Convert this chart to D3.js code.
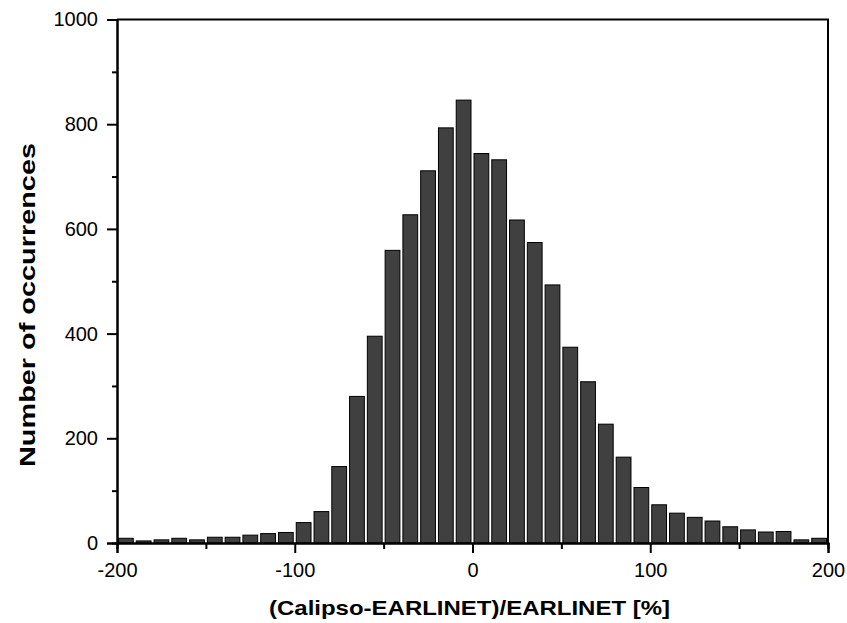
<!DOCTYPE html>
<html>
<head>
<meta charset="utf-8">
<script src="https://cdn.jsdelivr.net/npm/d3@7"></script>
<style>
  body { margin: 0; background: #fff; }
  text { font-family: "Liberation Sans", Arial, sans-serif; }
</style>
</head>
<body>
<div id="chart"></div>
<script>
// bin left edges (width 10) and counts
var binStart = d3.range(-200, 200, 10);
var counts = [9, 4, 6, 9, 6, 11, 11, 15, 18, 20,
              39, 60, 146, 280, 395, 559, 627, 711, 793, 846,
              744, 732, 617, 574, 493, 374, 308, 227, 164, 106,
              73, 57, 49, 42, 31, 25, 21, 22, 6, 9];
var xTicks = [-200, -100, 0, 100, 200];
var yTicks = [0, 200, 400, 600, 800, 1000];

var width = 847, height = 623;
var margin = {left: 117, right: 19, top: 19.5, bottom: 80};

var svg = d3.select("#chart").append("svg")
    .attr("width", width)
    .attr("height", height);

var x = d3.scaleLinear().domain([-200, 200]).range([margin.left, width - margin.right]);
var y = d3.scaleLinear().domain([0, 1000]).range([height - margin.bottom, margin.top]);

var bins = binStart.map(function(d, i){ return {x0: d, x1: d + 10, n: counts[i]}; });

svg.append("g")
  .selectAll("rect")
  .data(bins)
  .enter().append("rect")
    .attr("x", function(d){ return x(d.x0) + 1.5; })
    .attr("width", function(d){ return x(d.x1) - x(d.x0) - 3; })
    .attr("y", function(d){ return y(d.n); })
    .attr("height", function(d){ return y(0) - y(d.n); })
    .attr("fill", "#404040")
    .attr("stroke", "#000")
    .attr("stroke-width", 1);

// frame (top + right)
svg.append("path")
  .attr("d", "M" + x(-200) + "," + y(1000) + "H" + x(200) + "V" + y(0))
  .attr("fill", "none")
  .attr("stroke", "#000")
  .attr("stroke-width", 2);

// minor ticks
var xMinor = d3.axisBottom(x).tickValues(d3.range(-150, 200, 100)).tickSize(6).tickFormat("");
var yMinor = d3.axisLeft(y).tickValues(d3.range(100, 1000, 200)).tickSize(5).tickFormat("");

var fmt = function(d){ return String(d); };
var xAxis = d3.axisBottom(x).tickValues(xTicks).tickSize(10).tickPadding(10).tickFormat(fmt);
var yAxis = d3.axisLeft(y).tickValues(yTicks).tickSize(10).tickPadding(9).tickFormat(fmt);

[svg.append("g").attr("transform", "translate(0," + y(0) + ")").call(xMinor),
 svg.append("g").attr("transform", "translate(0," + y(0) + ")").call(xAxis),
 svg.append("g").attr("transform", "translate(" + x(-200) + ",0)").call(yMinor),
 svg.append("g").attr("transform", "translate(" + x(-200) + ",0)").call(yAxis)
].forEach(function(g){
  g.selectAll(".domain").attr("stroke-width", 2);
  g.selectAll(".tick line").attr("stroke-width", 2);
  g.selectAll(".tick text")
    .style("font-size", "20px")
    .style("font-family", "Liberation Sans, Arial, sans-serif")
    .attr("fill", "#000");
});

svg.append("text")
  .text("(Calipso-EARLINET)/EARLINET [%]")
  .attr("x", 469.5)
  .attr("y", 615)
  .attr("text-anchor", "middle")
  .attr("textLength", 401)
  .attr("lengthAdjust", "spacingAndGlyphs")
  .style("font-size", "21px")
  .style("font-weight", "bold");

svg.append("text")
  .text("Number of occurrences")
  .attr("transform", "translate(35,305) rotate(-90)")
  .attr("text-anchor", "middle")
  .attr("textLength", 324)
  .attr("lengthAdjust", "spacingAndGlyphs")
  .style("font-size", "22px")
  .style("font-weight", "bold");
</script>
</body>
</html>
